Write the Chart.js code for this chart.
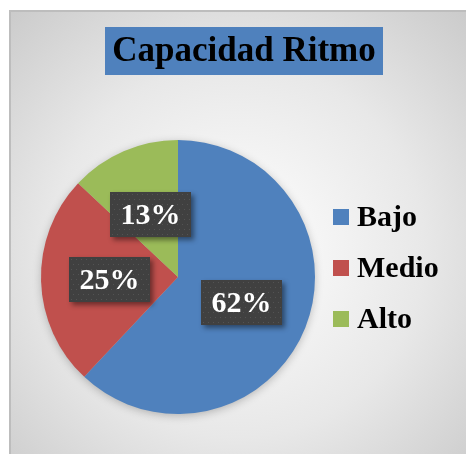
<!DOCTYPE html>
<html>
<head>
<meta charset="utf-8">
<script src="https://cdn.jsdelivr.net/npm/chart.js@4/dist/chart.umd.min.js"></script>
<style>
  html, body { margin: 0; padding: 0; background: #fff; }
  canvas { display: block; }
</style>
</head>
<body>
<canvas id="pieChart" width="466" height="454"></canvas>
<script>
// datos del grafico
const titulo = "Capacidad Ritmo";
const categorias = ["Bajo", "Medio", "Alto"];
const valores = [62, 25, 13];
const colores = ["#4F81BD", "#C0504D", "#9BBB59"];

const serif = "'Liberation Serif', 'Times New Roman', serif";

// fondo con degradado y borde
const fondoPlugin = {
    id: "fondo",
    beforeDraw(chart) {
        const ctx = chart.ctx;
        ctx.save();
        ctx.fillStyle = "#ffffff";
        ctx.fillRect(0, 0, chart.width, chart.height);
        const g = ctx.createRadialGradient(237, 250, 0, 237, 250, 340);
        g.addColorStop(0, "#ffffff");
        g.addColorStop(0.55, "#e8e8e8");
        g.addColorStop(1, "#c9c9c9");
        ctx.fillStyle = g;
        ctx.fillRect(9, 10, chart.width - 9, chart.height - 10);
        ctx.strokeStyle = "#bdbdbd";
        ctx.lineWidth = 2;
        ctx.beginPath();
        ctx.moveTo(10, chart.height);
        ctx.lineTo(10, 11);
        ctx.lineTo(chart.width, 11);
        ctx.stroke();

        // titulo en caja azul
        ctx.fillStyle = "#4F81BD";
        ctx.fillRect(105, 27, 278, 48);
        ctx.fillStyle = "#000000";
        ctx.font = "bold 35px " + serif;
        ctx.textAlign = "center";
        ctx.textBaseline = "middle";
        ctx.fillText(titulo, 244, 52);
        ctx.restore();
    },
    beforeDatasetsDraw(chart) {
        const ctx = chart.ctx;
        ctx.save();
        ctx.shadowColor = "rgba(0,0,0,0.28)";
        ctx.shadowBlur = 10;
        ctx.shadowOffsetY = 2;
        const arc = chart.getDatasetMeta(0).data[0];
        ctx.fillStyle = "#bbbbbb";
        ctx.beginPath();
        ctx.arc(arc.x, arc.y, arc.outerRadius - 1, 0, Math.PI * 2);
        ctx.fill();
        ctx.restore();
    }
};

// etiquetas de porcentaje y leyenda
const etiquetasPlugin = {
    id: "etiquetas",
    afterDatasetsDraw(chart) {
        const ctx = chart.ctx;
        const ds = chart.data.datasets[0];
        const total = ds.data.reduce((a, b) => a + b, 0);
        const meta = chart.getDatasetMeta(0);
        ctx.save();
        meta.data.forEach((arc, i) => {
            const p = arc.tooltipPosition();
            const w = 81, h = 45;
            const x = Math.round(p.x - w / 2), y = Math.round(p.y - h / 2);
            ctx.save();
            ctx.shadowColor = "rgba(0,0,0,0.45)";
            ctx.shadowBlur = 5;
            ctx.shadowOffsetX = 3;
            ctx.shadowOffsetY = 3;
            ctx.fillStyle = "#404040";
            ctx.fillRect(x, y, w, h);
            ctx.restore();
            // patron de puntos
            ctx.fillStyle = "#535353";
            for (let yy = y + 2; yy < y + h - 1; yy += 5) {
                const off = ((yy - y - 2) / 5) % 2 ? 2 : 0;
                for (let xx = x + 2 + off; xx < x + w - 1; xx += 5) {
                    ctx.fillRect(xx, yy, 1, 1);
                }
            }
            ctx.fillStyle = "#ffffff";
            ctx.font = "bold 30px " + serif;
            ctx.textAlign = "center";
            ctx.textBaseline = "middle";
            const pct = Math.round(ds.data[i] / total * 100) + "%";
            ctx.fillText(pct, x + w / 2, y + h / 2 + 2);
        });

        // leyenda
        chart.data.labels.forEach((lab, i) => {
            const cy = 217 + i * 51;
            ctx.fillStyle = ds.backgroundColor[i];
            ctx.fillRect(333, cy - 8, 16, 16);
            ctx.fillStyle = "#000000";
            ctx.font = "bold 30px " + serif;
            ctx.textAlign = "left";
            ctx.textBaseline = "middle";
            ctx.fillText(lab, 357, cy + 1);
        });
        ctx.restore();
    }
};

new Chart(document.getElementById("pieChart"), {
    type: "pie",
    data: {
        labels: categorias,
        datasets: [{
            data: valores,
            backgroundColor: colores,
            borderWidth: 0
        }]
    },
    options: {
        responsive: false,
        animation: false,
        devicePixelRatio: 1,
        layout: { padding: { left: 41, top: 140, right: 151, bottom: 40 } },
        plugins: {
            legend: { display: false },
            title: { display: false },
            tooltip: { enabled: false }
        }
    },
    plugins: [fondoPlugin, etiquetasPlugin]
});
</script>
</body>
</html>
